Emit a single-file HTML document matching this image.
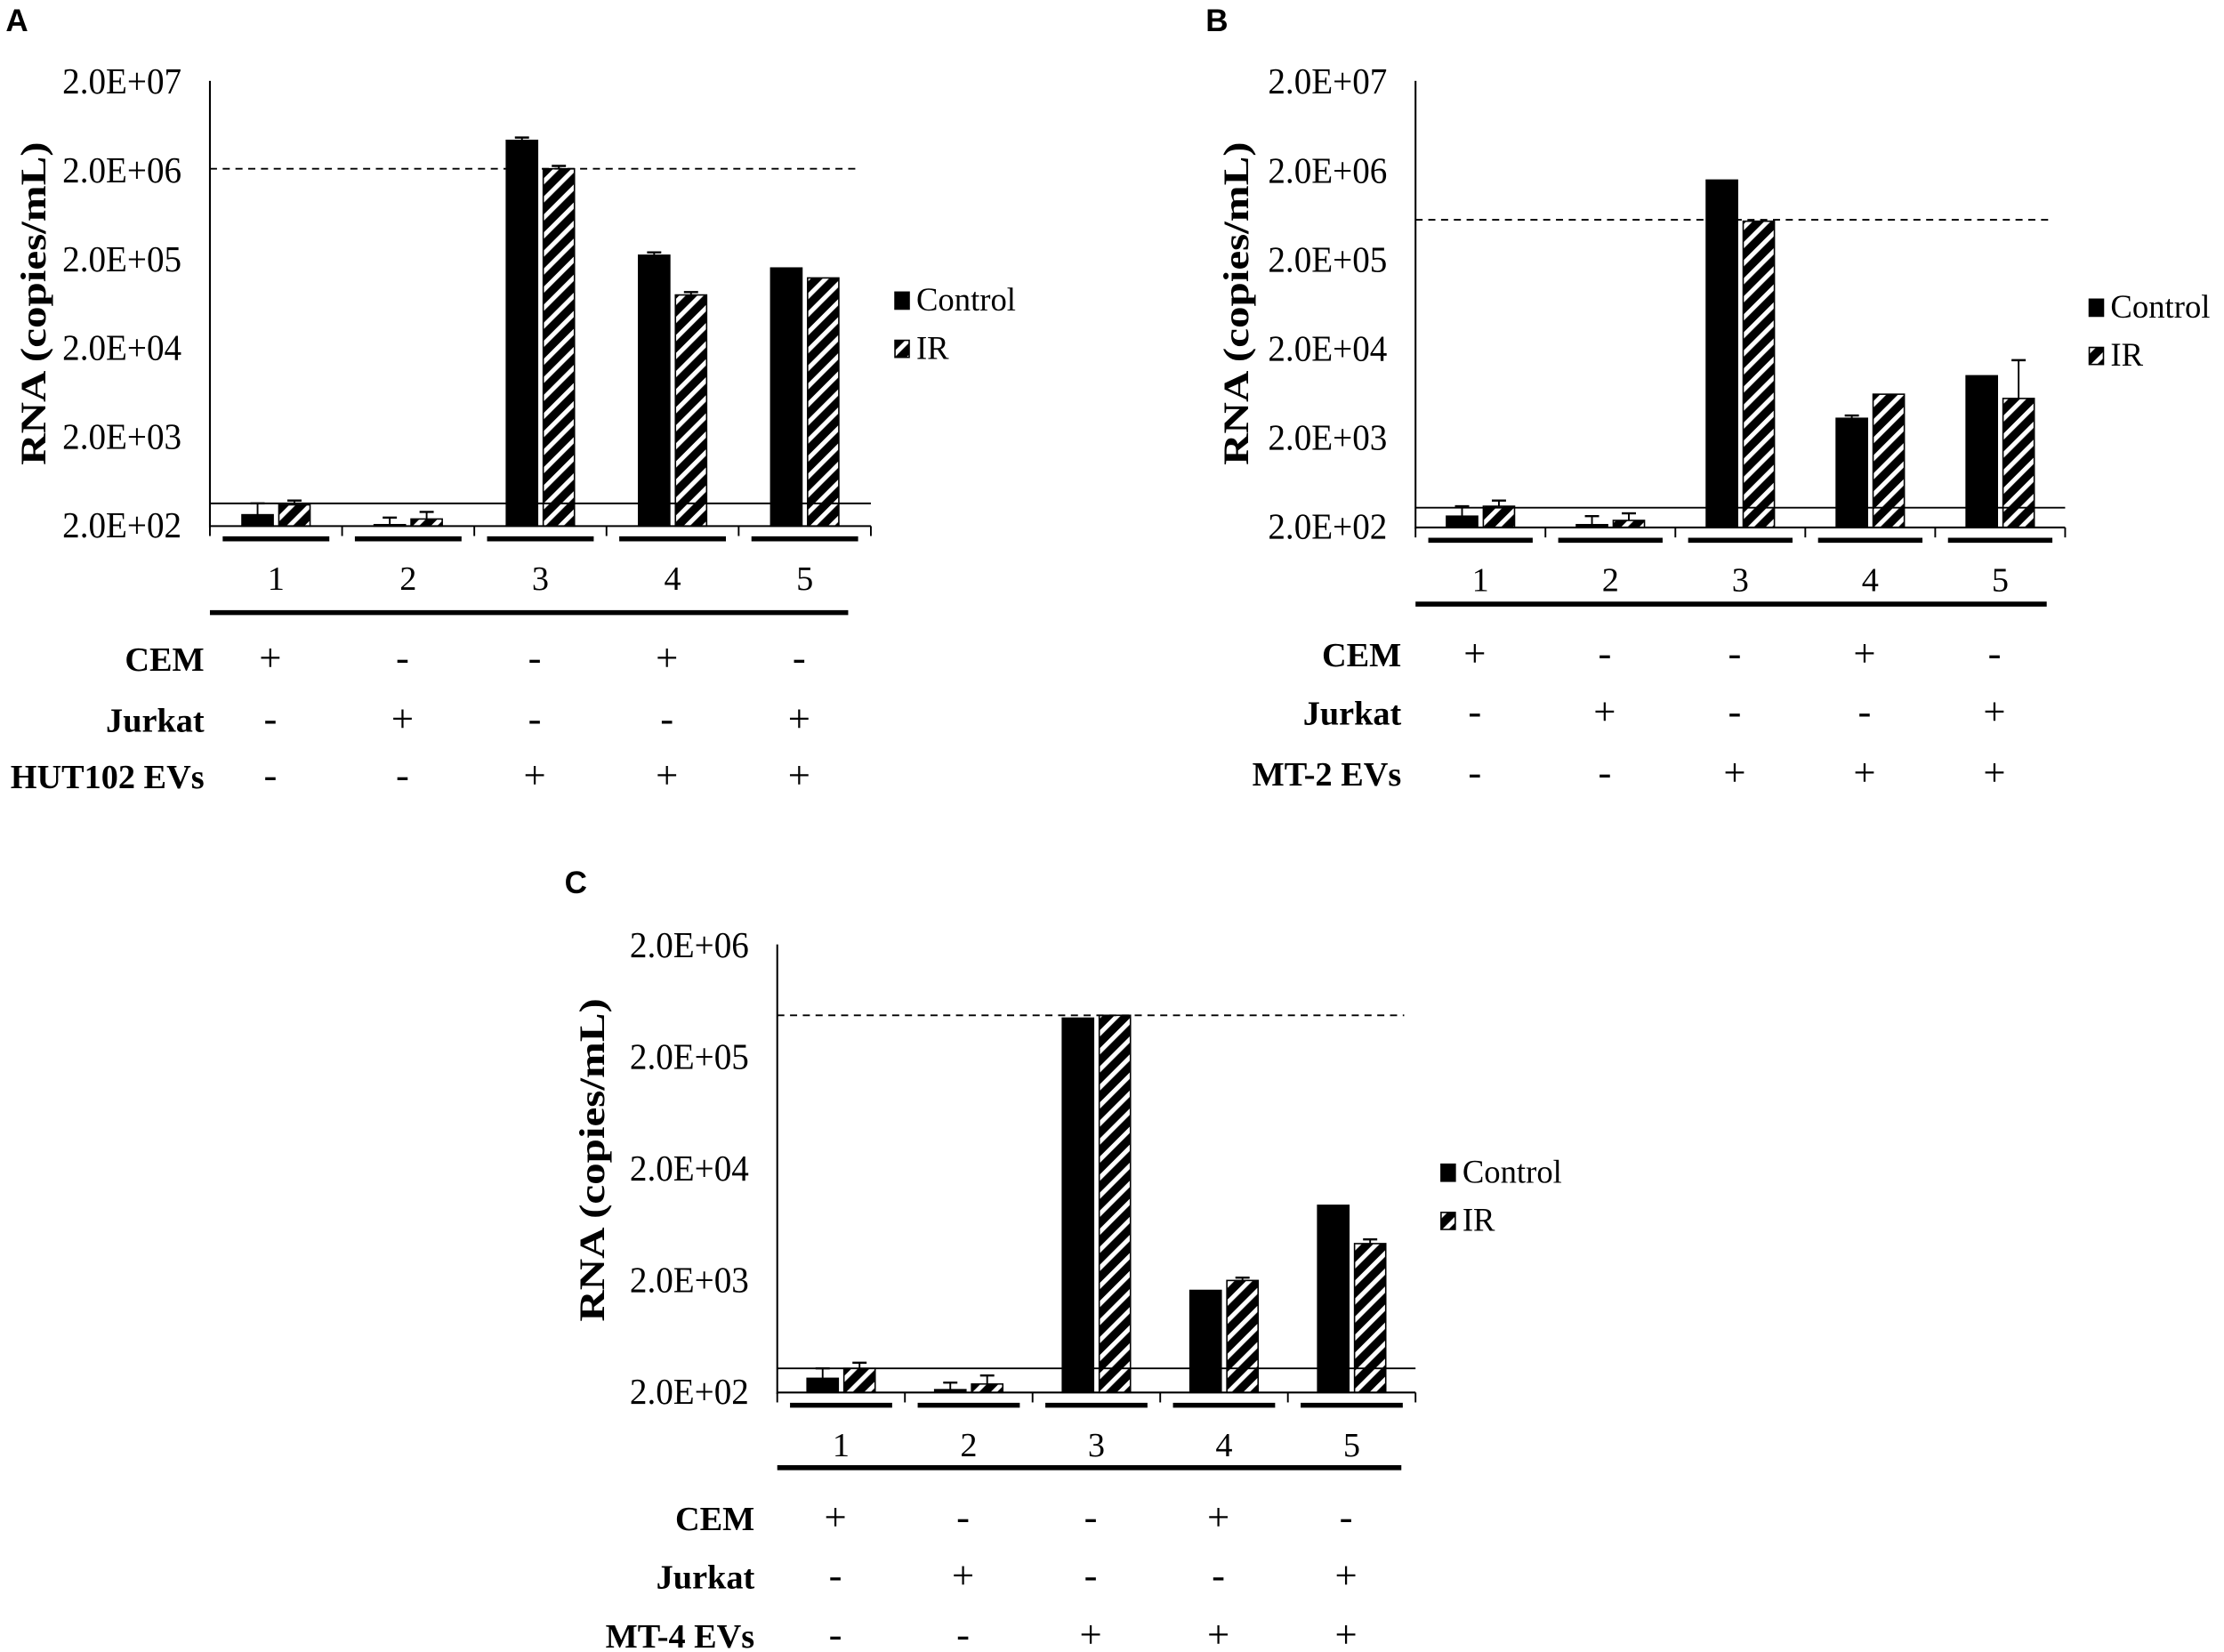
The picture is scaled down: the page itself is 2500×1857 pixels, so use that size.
<!DOCTYPE html>
<html><head><meta charset="utf-8"><style>
html,body{margin:0;padding:0;background:#fff;}
svg{display:block;}
</style></head><body>
<svg id="s" xmlns="http://www.w3.org/2000/svg" width="2500" height="1857" viewBox="0 0 1568 1165" preserveAspectRatio="none">
<defs>
<pattern id="h" patternUnits="userSpaceOnUse" width="9" height="9" patternTransform="rotate(45)">
<rect width="9" height="9" fill="#000"/><rect x="0" y="0" width="3.2" height="9" fill="#fff"/>
</pattern>
</defs>
<g id="g"></g>
</svg>
<script>
var out='';
function L(x1,y1,x2,y2,w,extra){out+='<line x1="'+x1+'" y1="'+y1+'" x2="'+x2+'" y2="'+y2+'" stroke="#000" stroke-width="'+w+'" '+(extra||'')+'/>';}
function T(x,y,s,fs,anch,bold,fam,extra){out+='<text x="'+x+'" y="'+y+'" font-size="'+fs+'" text-anchor="'+anch+'" font-family="'+(fam||'Liberation Serif')+', serif" '+(bold?'font-weight="bold" ':'')+(extra||'')+'>'+s+'</text>';}
function R(x,y,w,h,f){out+='<rect x="'+x+'" y="'+y+'" width="'+w+'" height="'+h+'" fill="'+f+'" stroke="#000" stroke-width="1"/>';}
function panel(p){
  var ax=p.ax, xe=p.xe, cw=(xe-ax)/5;
  L(ax,p.top,ax,p.bot+2,1.3);
  for(var i=0;i<p.labels.length;i++){var y=p.top+i*(p.bot-p.top)/(p.labels.length-1);T(ax-20,y+9,p.labels[i],26,'end',false,null,'textLength="84" lengthAdjust="spacingAndGlyphs"');}
  T(p.tx,p.tcy,'RNA (copies/mL)',25,'middle',true,null,'textLength="228" lengthAdjust="spacingAndGlyphs" transform="rotate(-90 '+p.tx+' '+p.tcy+')"');
  for(var k=0;k<5;k++){
    var c=ax+cw*(k+0.5), d=p.bars[k];
    if(d[2]) {L(c-13,d[2],c-13,d[0],1.2,'stroke="#666"');L(c-18,d[2],c-8,d[2],1.5,'stroke="#666"');}
    if(d[3]) {L(c+13,d[3],c+13,d[1],1.2,'stroke="#666"');L(c+8,d[3],c+18,d[3],1.5,'stroke="#666"');}
    R(c-24,d[0],22,p.bot+1-d[0],'#000');
    R(c+2,d[1],22,p.bot+1-d[1],'url(#h)');
    L(c-cw/2+9,p.bot+10,c+cw/2-9,p.bot+10,3.5);
    T(c,p.bot+46,String(k+1),24,'middle');
  }
  L(ax,p.bot+1,xe,p.bot+1,1.3);
  for(var k=0;k<=5;k++)L(ax+cw*k,p.bot+1,ax+cw*k,p.bot+8,1.2);
  L(ax,p.solid,xe,p.solid,1.2);
  L(ax,p.dash,xe-8,p.dash,1.2,'stroke-dasharray="5,4"');
  L(ax,p.line2,p.l2e,p.line2,3.5);
  var rows=p.rows, sy=p.rowy;
  for(var r=0;r<3;r++){
    T(p.lx,sy[r]+9,rows[r],24,'end',true);
    for(var k=0;k<5;k++){var c=ax+cw*(k+0.5)-4;T(c,sy[r]+9,p.sym[r][k],28,'middle');}
  }
  R(p.lgx,p.lgy,10,12,'#000');T(p.lgx+15,p.lgy+13,'Control',23,'start');
  R(p.lgx,p.lgy+34,10,12,'url(#h)');T(p.lgx+15,p.lgy+47,'IR',23,'start');
  T(p.lettx,p.letty,p.letter,22,'start',true,'Liberation Sans');
}
var S1=[['+','-','-','+','-'],['-','+','-','-','+'],['-','-','+','+','+']];
panel({ax:148,xe:614,top:57,bot:370,labels:['2.0E+07','2.0E+06','2.0E+05','2.0E+04','2.0E+03','2.0E+02'],
 tx:32,tcy:214,bars:[[363,356,355,353],[370,366,365,361],[99,119,97,117],[180,208,178,206],[189,196,0,0]],
 solid:355,dash:119,line2:432,l2e:598,rows:['CEM','Jurkat','HUT102 EVs'],rowy:[464,507,547],lx:144,sym:S1,
 lgx:631,lgy:206,letter:'A',lettx:4,letty:22});
panel({ax:998,xe:1456,top:57,bot:371,labels:['2.0E+07','2.0E+06','2.0E+05','2.0E+04','2.0E+03','2.0E+02'],
 tx:880,tcy:214,bars:[[364,357,357,353],[370,367,364,362],[127,156,0,0],[295,278,293,0],[265,281,0,254]],
 solid:358,dash:155,line2:426,l2e:1443,rows:['CEM','Jurkat','MT-2 EVs'],rowy:[461,502,545],lx:988,sym:S1,
 lgx:1473,lgy:211,letter:'B',lettx:850,letty:22});
panel({ax:548,xe:998,top:666,bot:981,labels:['2.0E+06','2.0E+05','2.0E+04','2.0E+03','2.0E+02'],
 tx:426,tcy:818,bars:[[972,965,965,961],[980,976,975,970],[718,716,0,0],[910,903,0,901],[850,877,0,874]],
 solid:965,dash:716,line2:1035,l2e:988,rows:['CEM','Jurkat','MT-4 EVs'],rowy:[1070,1111,1153],lx:532,sym:S1,
 lgx:1016,lgy:821,letter:'C',lettx:398,letty:630});
document.getElementById('g').innerHTML=out;
</script>
</body></html>
